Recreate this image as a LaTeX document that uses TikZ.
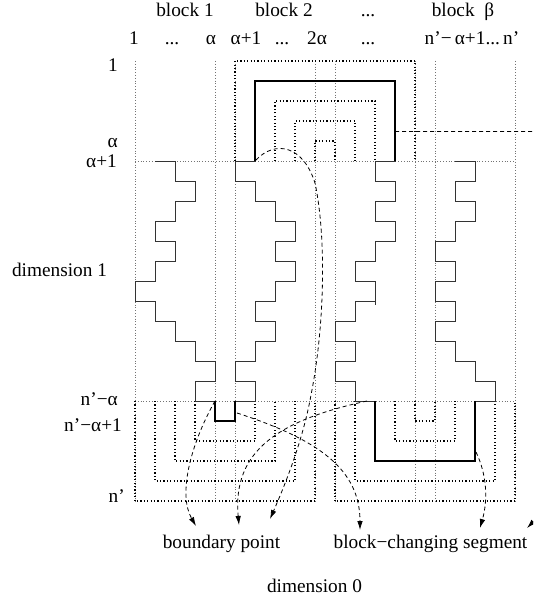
\documentclass[tikz,border=0pt]{standalone}
\usepackage{fontspec}
\setmainfont{Liberation Serif}
\usetikzlibrary{arrows.meta}
\begin{document}
\begin{tikzpicture}[x=1pt,y=-1pt,
  lbl/.style={font=\fontsize{19.3}{22}\selectfont, inner sep=0pt},
  gridln/.style={draw=black!55, line width=0.6pt, dash pattern=on 0.6pt off 2.2pt},
  nest/.style={draw=black, line width=1.1pt, dash pattern=on 1.1pt off 2.3pt},
  stair/.style={draw=black!80, line width=0.9pt},
  thickseg/.style={draw=black, line width=2pt},
  dasharrow/.style={draw=black, line width=0.8pt, dash pattern=on 4pt off 3pt, -{Latex[length=9pt,width=5.5pt]}}]
\useasboundingbox (0,0) rectangle (533,599);
\clip (0,0) rectangle (533,599);
\fill[white] (0,0) rectangle (533,599);

\begin{scope}[shift={(135,161)}, x=20pt, y=-20pt]
  % grid
  \foreach \k in {0,4,5,9,10,14,15,19} \draw[gridln] (\k,-5) -- (\k,17);
  \draw[gridln] (0,0) -- (19,0);
  \draw[gridln] (0,12) -- (19,12);
  % nested arches
  \foreach \a/\b/\d in {5/14/-5,7/12/-3,8/11/-2,9/10/-1}
    \draw[nest] (\a,0) -- (\a,\d) -- (\b,\d) -- (\b,0);
  \foreach \a/\b/\d in {0/9/17,1/8/16,2/7/15,3/6/14,10/19/17,11/18/16,13/16/14,14/15/13}
    \draw[nest] (\a,12) -- (\a,\d) -- (\b,\d) -- (\b,12);
  % staircase path
  \draw[stair] (1,0) -- (2,0) -- (2,1) -- (3,1) -- (3,2) -- (2,2) -- (2,3) -- (1,3) -- (1,4) -- (2,4) -- (2,5) -- (1,5) -- (1,6) -- (0,6) -- (0,7) -- (1,7) -- (1,8) -- (2,8) -- (2,9) -- (3,9) -- (3,10) -- (4,10) -- (4,11) -- (3,11) -- (3,12) -- (4,12) -- (4,13) -- (5,13) -- (5,12) -- (6,12) -- (6,11) -- (5,11) -- (5,10) -- (6,10) -- (6,9) -- (7,9) -- (7,8) -- (6,8) -- (6,7) -- (7,7) -- (7,6) -- (8,6) -- (8,5) -- (7,5) -- (7,4) -- (8,4) -- (8,3) -- (7,3) -- (7,2) -- (6,2) -- (6,1) -- (5,1) -- (5,0) -- (6,0) -- (6,-4) -- (13,-4) -- (13,0) -- (12,0) -- (12,1) -- (13,1) -- (13,2) -- (12,2) -- (12,3) -- (13,3) -- (13,4) -- (12,4) -- (12,5) -- (11,5) -- (11,6) -- (12,6) -- (12,7) -- (11,7) -- (11,8) -- (10,8) -- (10,9) -- (11,9) -- (11,10) -- (10,10) -- (10,11) -- (11,11) -- (11,12) -- (12,12) -- (12,15) -- (17,15) -- (17,12) -- (18,12) -- (18,11) -- (17,11) -- (17,10) -- (16,10) -- (16,9) -- (15,9) -- (15,8) -- (16,8) -- (16,7) -- (15,7) -- (15,6) -- (16,6) -- (16,5) -- (15,5) -- (15,4) -- (16,4) -- (16,3) -- (17,3) -- (17,2) -- (16,2) -- (16,1) -- (17,1) -- (17,0) -- (16,0);
  \draw[stair] (12,7) -- (12,7.2);
  % block-changing segments
  \draw[thickseg] (4,12) -- (4,13) -- (5,13) -- (5,12);
  \draw[thickseg] (6,0) -- (6,-4) -- (13,-4) -- (13,0);
  \draw[thickseg] (12,12) -- (12,15) -- (17,15) -- (17,12);
\end{scope}

% connector ends
\coordinate (sA) at (215,401); \coordinate (tA) at (196,526);
\coordinate (sB) at (367,401); \coordinate (tB) at (239,525);
\coordinate (sC) at (256,160); \coordinate (tC) at (270,519);
\coordinate (sD) at (237,413); \coordinate (tD) at (360,530);
\coordinate (sE) at (476,452); \coordinate (tE) at (480,528);
\coordinate (sF) at (395,131.5); \coordinate (tF) at (527,528);

\draw[dasharrow] (sA) .. controls (190,445) and (178,495) .. (tA);
\draw[dasharrow] (sB) .. controls (280,420) and (232,450) .. (tB);
\draw[dasharrow] (sC) .. controls (275,140) and (303,145) .. (315,183) .. controls (327,240) and (324,330) .. (311,395) .. controls (303,440) and (285,485) .. (tC);
\draw[dasharrow] (sD) .. controls (320,440) and (360,470) .. (tD);
\draw[dasharrow] (sE) .. controls (487,475) and (488,500) .. (tE);
\draw[dasharrow] (sF) -- (545,131.5) .. controls (590,131.5) and (575,480) .. (tF);

% labels
\node[lbl, anchor=base] (bp) at (221.5,548) {boundary point};
\node[lbl, anchor=base] (bcs) at (430.5,548) {block−changing segment};
\node[lbl, anchor=base] (d0) at (314.5,592) {dimension 0};
\node[lbl, anchor=base] (d1) at (59.5,276) {dimension 1};

\node[lbl, anchor=base] (b1) at (185,17) {block 1};
\node[lbl, anchor=base] (b2) at (284,17) {block 2};
\node[lbl, anchor=base] (bd) at (368,17) {...};
\node[lbl, anchor=base] (bb) at (463,17) {block\ \ β};

\node[lbl, anchor=base] (c1) at (134,45) {1};
\node[lbl, anchor=base] (c2) at (172,45) {...};
\node[lbl, anchor=base] (c3) at (211,45) {α};
\node[lbl, anchor=base] (c4) at (246,45) {α+1};
\node[lbl, anchor=base] (c5) at (282,45) {...};
\node[lbl, anchor=base] (c6) at (317,45) {2α};
\node[lbl, anchor=base] (c7) at (368,45) {...};
\node[lbl, anchor=base] (c8) at (472,45) {n’−\,α+1...\,n’};

\node[lbl, anchor=base east] (l1) at (118,72) {1};
\node[lbl, anchor=base east] (la) at (118,147) {α};
\node[lbl, anchor=base east] (la1) at (117,167) {α+1};
\node[lbl, anchor=base east] (lna) at (118,405) {n’−α};
\node[lbl, anchor=base east] (lna1) at (122,431) {n’−α+1};
\node[lbl, anchor=base east] (ln) at (125,502) {n’};
\end{tikzpicture}
\end{document}
